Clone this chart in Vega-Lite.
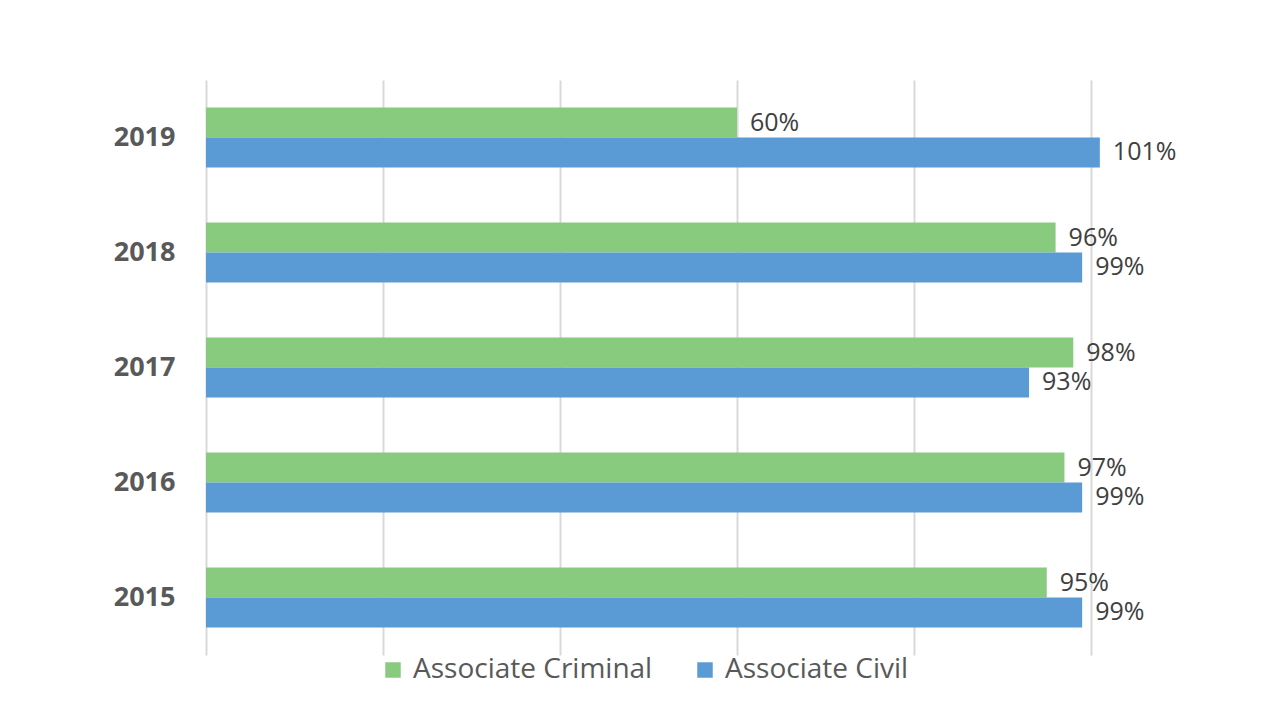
{
  "$schema": "https://vega.github.io/schema/vega-lite/v6.json",
  "autosize": {"type": "none"},
  "width": 1062,
  "height": 575,
  "padding": {"left": 206, "top": 80, "right": 2, "bottom": 58},
  "background": "white",
  "config": {"view": {"stroke": null}, "font": "Open Sans"},
  "data": {"values": [
    {"year": "2019", "series": "Associate Criminal", "value": 0.60},
    {"year": "2019", "series": "Associate Civil", "value": 1.01},
    {"year": "2018", "series": "Associate Criminal", "value": 0.96},
    {"year": "2018", "series": "Associate Civil", "value": 0.99},
    {"year": "2017", "series": "Associate Criminal", "value": 0.98},
    {"year": "2017", "series": "Associate Civil", "value": 0.93},
    {"year": "2016", "series": "Associate Criminal", "value": 0.97},
    {"year": "2016", "series": "Associate Civil", "value": 0.99},
    {"year": "2015", "series": "Associate Criminal", "value": 0.95},
    {"year": "2015", "series": "Associate Civil", "value": 0.99}
  ]},
  "encoding": {
    "y": {"field": "year", "type": "nominal", "sort": "descending",
      "scale": {"paddingInner": 0.48, "paddingOuter": 0.24},
      "axis": {"title": null, "ticks": false, "domain": false, "labelPadding": 31,
        "labelFontSize": 27, "labelFontWeight": "bold", "labelColor": "#595959", "labelFont": "Open Sans"}},
    "yOffset": {"field": "series", "type": "nominal", "sort": ["Associate Criminal", "Associate Civil"]},
    "x": {"field": "value", "type": "quantitative",
      "scale": {"domain": [0, 1.2], "nice": false},
      "axis": {"title": null, "values": [0, 0.2, 0.4, 0.6, 0.8, 1.0], "labels": false, "ticks": false,
        "domain": false, "grid": true, "gridColor": "#D9D9D9", "gridWidth": 2}}
  },
  "layer": [
    {"mark": {"type": "bar"},
     "encoding": {
       "color": {"field": "series", "type": "nominal",
         "scale": {"domain": ["Associate Criminal", "Associate Civil"], "range": ["#88CB7F", "#5B9BD5"]},
         "legend": {"title": null, "orient": "none", "legendX": 173, "legendY": 576, "direction": "horizontal", "symbolType": "square",
           "symbolSize": 240, "symbolStrokeWidth": 0, "labelFontSize": 28, "labelColor": "#595959",
           "labelFont": "Open Sans", "columnPadding": 38, "symbolOffset": 0, "labelOffset": 6, "labelLimit": 400}}
     }},
    {"mark": {"type": "text", "align": "left", "baseline": "middle", "dx": 13, "fontSize": 25, "color": "#404040"},
     "encoding": {"text": {"field": "value", "type": "quantitative", "format": ".0%"}}}
  ]
}
